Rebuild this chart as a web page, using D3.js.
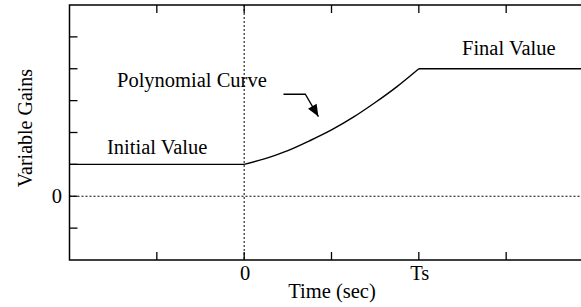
<!DOCTYPE html>
<html>
<head>
<meta charset="utf-8">
<script src="https://cdn.jsdelivr.net/npm/d3@7"></script>
</head>
<body style="margin:0">
<svg width="581" height="307"></svg>
<script>
// data (time in units, Ts = 2)
var flatStartT = [-2, 0];
var flatStartV = [1, 1];
var curveT = [0, 0.25, 0.5, 0.75, 1, 1.25, 1.5, 1.75, 2];
var curveV = [1, 1.19, 1.43, 1.74, 2.08, 2.48, 2.94, 3.44, 4];
var flatEndT = [2, 4];
var flatEndV = [4, 4];
var xTicks = [-1, 0, 1, 2, 3];
var xTickLabels = ["", "0", "", "Ts", ""];
var yTicks = [-1, 0, 1, 2, 3, 4, 5];
var yTickLabels = ["", "0", "", "", "", "", ""];
var arrowT = [0.45, 0.70, 0.85];
var arrowV = [3.2, 3.2, 2.5];

var svg = d3.select("svg");
var width = +svg.attr("width");
var height = +svg.attr("height");

var x = d3.scaleLinear().domain([-2, 4]).range([69.5, 593.5]);
var y = d3.scaleLinear().domain([-2, 6]).range([260, 5]);

var defs = svg.append("defs");
defs.append("marker")
	.attr("id", "head")
	.attr("viewBox", "0 0 12 10")
	.attr("refX", 12).attr("refY", 5)
	.attr("markerWidth", 13).attr("markerHeight", 10)
	.attr("markerUnits", "userSpaceOnUse")
	.attr("orient", "auto")
	.append("path").attr("d", "M0,0 L12,5 L0,10 z").attr("fill", "#000");

// ticks (inward, on all sides)
var tl = 8;
var g = svg.append("g").attr("stroke", "#000").attr("stroke-width", 1.3);
xTicks.forEach(function(t) {
	g.append("line").attr("x1", x(t)).attr("x2", x(t)).attr("y1", y(-2)).attr("y2", y(-2) - tl);
	g.append("line").attr("x1", x(t)).attr("x2", x(t)).attr("y1", y(6)).attr("y2", y(6) + tl);
});
yTicks.forEach(function(v) {
	g.append("line").attr("x1", x(-2)).attr("x2", x(-2) + tl).attr("y1", y(v)).attr("y2", y(v));
	g.append("line").attr("x1", x(4)).attr("x2", x(4) - tl).attr("y1", y(v)).attr("y2", y(v));
});

// dotted zero lines
svg.append("line")
	.attr("x1", x(0)).attr("x2", x(0)).attr("y1", y(6)).attr("y2", y(-2))
	.attr("stroke", "#000").attr("stroke-width", 1).attr("stroke-dasharray", "2,2");
svg.append("line")
	.attr("x1", x(-2)).attr("x2", x(4)).attr("y1", y(0)).attr("y2", y(0))
	.attr("stroke", "#000").attr("stroke-width", 1).attr("stroke-dasharray", "2,2");

// frame
svg.append("rect")
	.attr("x", x(-2)).attr("y", y(6))
	.attr("width", x(4) - x(-2)).attr("height", y(-2) - y(6))
	.attr("fill", "none").attr("stroke", "#000").attr("stroke-width", 1.5);

// gain profile
var line = d3.line().x(function(d) { return x(d[0]); }).y(function(d) { return y(d[1]); });
var curve = d3.line().curve(d3.curveMonotoneX).x(function(d) { return x(d[0]); }).y(function(d) { return y(d[1]); });

svg.append("path").datum(d3.zip(flatStartT, flatStartV))
	.attr("d", line).attr("fill", "none").attr("stroke", "#000").attr("stroke-width", 1.4);
svg.append("path").datum(d3.zip(curveT, curveV))
	.attr("d", curve).attr("fill", "none").attr("stroke", "#000").attr("stroke-width", 1.4);
svg.append("path").datum(d3.zip(flatEndT, flatEndV))
	.attr("d", line).attr("fill", "none").attr("stroke", "#000").attr("stroke-width", 1.4);

// arrow
svg.append("path").datum(d3.zip(arrowT, arrowV))
	.attr("d", line).attr("fill", "none").attr("stroke", "#000").attr("stroke-width", 1.3)
	.attr("marker-end", "url(#head)");

function label(px, py, txt) {
	return svg.append("text").attr("x", px).attr("y", py)
		.attr("font-family", "Liberation Serif").attr("font-size", 20.5).text(txt);
}

// tick labels
xTicks.forEach(function(t, i) {
	if (!xTickLabels[i]) return;
	label(x(t) + 1, 280, xTickLabels[i]).attr("text-anchor", "middle");
});
yTicks.forEach(function(v, i) {
	if (!yTickLabels[i]) return;
	label(62, y(v), yTickLabels[i]).attr("dy", "0.35em").attr("text-anchor", "end");
});

// annotations
label(107, 154, "Initial Value");
label(117, 87, "Polynomial Curve");
label(462, 55, "Final Value");

// axis titles
label(332, 298, "Time (sec)").attr("text-anchor", "middle");
label(0, 0, "Variable Gains").attr("transform", "translate(32,128) rotate(-90)")
	.attr("text-anchor", "middle").attr("font-size", 20);
</script>
</body>
</html>
